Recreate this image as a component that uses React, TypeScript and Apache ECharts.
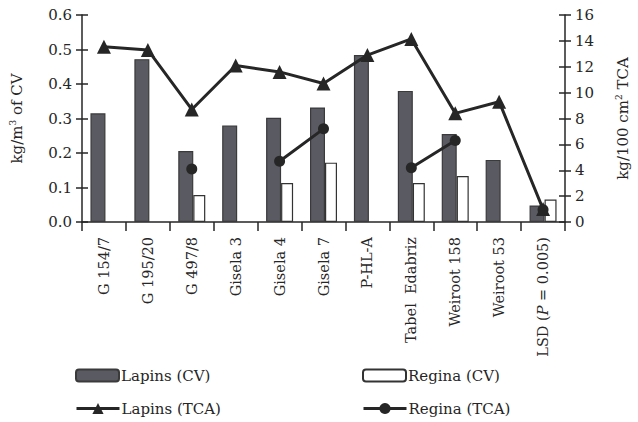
import React, { useEffect, useRef } from "react";
import * as echarts from "echarts";

const categories = [
  "G 154/7",
  "G 195/20",
  "G 497/8",
  "Gisela 3",
  "Gisela 4",
  "Gisela 7",
  "P-HL-A",
  "Tabel\u00a0\u00a0Edabriz",
  "Weiroot 158",
  "Weiroot 53",
  "LSD",
];
const lapinsCV = [0.315, 0.472, 0.206, 0.28, 0.302, 0.332, 0.484, 0.38, 0.255, 0.18, 0.048];
const reginaCV = [null, null, 0.078, null, 0.113, 0.172, null, 0.113, 0.133, null, 0.065];
const lapinsTCA = [13.55, 13.3, 8.7, 12.1, 11.6, 10.7, 12.9, 14.15, 8.4, 9.3, 1.0];
const reginaTCA = [null, null, 4.1, null, 4.7, 7.2, null, 4.2, 6.3, null, 0.95];
const leftTicks = [0, 0.6, 0.1];
const rightTicks = [0, 16, 2];

const FONT = "DejaVu Serif";
const INK = "#262626";

export default function App() {
  const ref = useRef<HTMLDivElement>(null);
  useEffect(() => {
    if (!ref.current) return;
    const chart = echarts.init(ref.current, undefined, { renderer: "svg" });
    const axisCommon = {
      type: "value" as const,
      splitLine: { show: false },
      axisLine: { show: true, lineStyle: { color: INK, width: 1.5 } },
      axisTick: { show: true, length: 6, lineStyle: { color: INK, width: 1.5 } },
    };
    const legendCommon = {
      itemWidth: 43,
      itemHeight: 12,
      itemGap: 0,
      textStyle: { fontFamily: FONT, fontSize: 15, color: INK, padding: [0, 0, 0, -3] },
      lineStyle: { color: INK, width: 3 },
      padding: 0,
    };
    chart.setOption({
      animation: false,
      grid: { left: 77, right: 66, top: 15, bottom: 200, containLabel: false },
      xAxis: {
        type: "category",
        data: categories,
        axisLine: { lineStyle: { color: INK, width: 1.5 } },
        axisTick: { show: true, length: 9, lineStyle: { color: INK, width: 1.5 } },
        axisLabel: {
          rotate: 90,
          interval: 0,
          margin: 15,
          fontFamily: FONT,
          fontSize: 14.5,
          color: INK,
          formatter: (v: string) => (v === "LSD" ? "LSD ({i|P} = 0.005)" : v),
          rich: { i: { fontFamily: FONT, fontSize: 14.5, fontStyle: "italic", color: INK } },
        },
      },
      yAxis: [
        {
          ...axisCommon,
          position: "left",
          min: leftTicks[0],
          max: leftTicks[1],
          interval: leftTicks[2],
          name: "kg/m{s|3} of CV",
          nameLocation: "middle",
          nameGap: 57,
          nameRotate: 90,
          nameTextStyle: {
            fontFamily: FONT,
            fontSize: 15,
            color: INK,
            rich: { s: { fontFamily: FONT, fontSize: 9, color: INK, verticalAlign: "top", padding: [0, 0, 8, 0] } },
          },
          axisLabel: {
            fontFamily: FONT,
            fontSize: 15,
            color: INK,
            margin: 10,
            formatter: (v: number) => v.toFixed(1),
          },
        },
        {
          ...axisCommon,
          position: "right",
          min: rightTicks[0],
          max: rightTicks[1],
          interval: rightTicks[2],
          name: "kg/100 cm{s|2} TCA",
          nameLocation: "middle",
          nameGap: 49,
          nameRotate: 90,
          nameTextStyle: {
            fontFamily: FONT,
            fontSize: 15,
            color: INK,
            rich: { s: { fontFamily: FONT, fontSize: 9, color: INK, verticalAlign: "top", padding: [0, 0, 8, 0] } },
          },
          axisLabel: { fontFamily: FONT, fontSize: 15, color: INK, margin: 10 },
        },
        {
          ...axisCommon,
          position: "left",
          min: leftTicks[0],
          max: leftTicks[1],
          interval: leftTicks[2],
          axisLine: { show: false },
          axisTick: { show: true, inside: true, length: 6, lineStyle: { color: INK, width: 1.5 } },
          axisLabel: { show: false },
        },
        {
          ...axisCommon,
          position: "right",
          min: rightTicks[0],
          max: rightTicks[1],
          interval: rightTicks[2],
          axisLine: { show: false },
          axisTick: { show: true, inside: true, length: 6, lineStyle: { color: INK, width: 1.5 } },
          axisLabel: { show: false },
        },
      ],
      legend: [
        { ...legendCommon, left: 75, top: 368, data: [{ name: "Lapins (CV)" }] },
        { ...legendCommon, left: 362, top: 368, data: [{ name: "Regina (CV)" }] },
        { ...legendCommon, left: 75, top: 401, itemHeight: 14, data: [{ name: "Lapins (TCA)" }] },
        { ...legendCommon, left: 362, top: 401, itemHeight: 14, data: [{ name: "Regina (TCA)" }] },
      ],
      series: [
        {
          name: "Lapins (CV)",
          type: "bar",
          yAxisIndex: 0,
          data: lapinsCV,
          barWidth: 15,
          barGap: "0%",
          itemStyle: { color: "#5a5a62", borderColor: "#3a3a3a", borderWidth: 1.2 },
        },
        {
          name: "Regina (CV)",
          type: "bar",
          yAxisIndex: 0,
          data: reginaCV,
          barWidth: 12,
          barGap: "0%",
          itemStyle: { color: "#ffffff", borderColor: "#333333", borderWidth: 1.2 },
        },
        {
          name: "Lapins (TCA)",
          type: "line",
          yAxisIndex: 1,
          data: lapinsTCA,
          symbol: "triangle",
          symbolSize: 14,
          lineStyle: { color: INK, width: 3 },
          itemStyle: { color: INK, borderWidth: 0 },
          z: 5,
        },
        {
          name: "Regina (TCA)",
          type: "line",
          yAxisIndex: 1,
          data: reginaTCA,
          symbol: "circle",
          symbolSize: 11,
          connectNulls: false,
          lineStyle: { color: INK, width: 3 },
          itemStyle: { color: INK, borderWidth: 0 },
          z: 6,
        },
      ],
    });
    return () => chart.dispose();
  }, []);
  return <div ref={ref} style={{ width: 638, height: 422, position: "absolute", left: 0, top: 0 }} />;
}
